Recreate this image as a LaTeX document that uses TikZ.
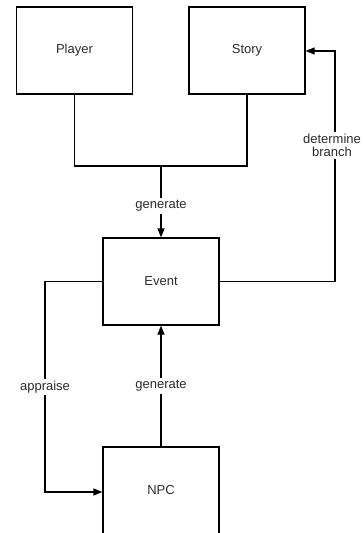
\documentclass[tikz,border=0pt]{standalone}
\usepackage{fontspec}
\setmainfont{Liberation Sans}
\usetikzlibrary{arrows.meta}
\definecolor{ink}{HTML}{2b2b2b}
\begin{document}
\begin{tikzpicture}[x=1pt,y=-1pt,
  box/.style={draw=black,line width=1.2pt,minimum width=116pt,minimum height=87pt,inner sep=0pt,font=\fontsize{13}{15}\selectfont,text=ink},
  lbl/.style={fill=white,inner sep=2pt,font=\fontsize{13}{13.5}\selectfont,text=ink,align=center},
  link/.style={line width=1.2pt},
  arr/.style={link,-{Triangle[length=9pt,width=7pt]}}]
\clip (0,0) rectangle (362,533);
\useasboundingbox (0,0) rectangle (362,533);
\node[box] (player) at (74.5,50.5) {Player};
\node[box] (story) at (247,50.5) {Story};
\node[box] (event) at (161,281.5) {Event};
\node[box] (npc) at (161,490.5) {NPC};
\coordinate (join) at (161,166);
\draw[link] (player.south) |- (join) -| (story.south);
\draw[arr] (join) -- node[lbl,pos=0.56]{generate} (event.north);
\coordinate (rt) at (335,281.5);
\coordinate (rtop) at (335,51);
\draw[arr] (event.east) -- (rt) -- node[lbl,pos=0.59,xshift=-3pt,inner xsep=0.5pt]{determine\\branch} (rtop) -- (story.east |- rtop);
\coordinate (lt) at (45,281.5);
\coordinate (lb) at (45,492);
\draw[arr] (event.west) -- (lt) -- node[lbl,pos=0.5]{appraise} (lb) -- (npc.west |- lb);
\draw[arr] (npc.north) -- node[lbl,pos=0.5]{generate} (event.south);
\end{tikzpicture}
\end{document}
